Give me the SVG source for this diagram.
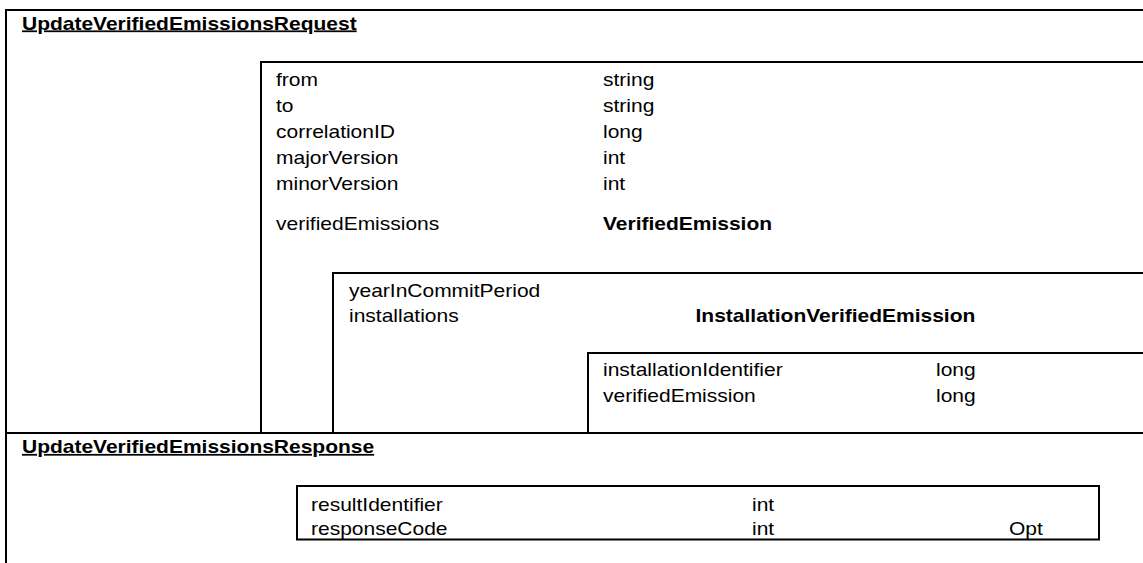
<svg xmlns="http://www.w3.org/2000/svg" width="1143" height="563" viewBox="0 0 1143 563">
<style>
  .ln { fill: none; stroke: #000; stroke-width: 2; }
  .t { font-family: "Liberation Sans", Arial, sans-serif; font-size: 17.5px; fill: #000; }
  .b { font-weight: bold; }
  .u { font-weight: bold; text-decoration: underline; }
</style>
<rect x="0" y="0" width="1143" height="563" fill="#fff"/>
<g id="connectors"/>
<g id="request">
  <path class="ln" d="M1143 10 H6 V563"/>
  <text class="t u" transform="matrix(1.2 0 0 1 22 29.5)">UpdateVerifiedEmissionsRequest</text>
</g>
<g id="request-fields">
  <path class="ln" d="M1143 62 H261 V433"/>
  <text class="t" transform="matrix(1.2 0 0 1 276 86)">from</text>
  <text class="t" transform="matrix(1.2 0 0 1 276 112)">to</text>
  <text class="t" transform="matrix(1.2 0 0 1 276 138)">correlationID</text>
  <text class="t" transform="matrix(1.2 0 0 1 276 164)">majorVersion</text>
  <text class="t" transform="matrix(1.2 0 0 1 276 190)">minorVersion</text>
  <text class="t" transform="matrix(1.2 0 0 1 276 230)">verifiedEmissions</text>
  <text class="t" transform="matrix(1.2 0 0 1 603 86)">string</text>
  <text class="t" transform="matrix(1.2 0 0 1 603 112)">string</text>
  <text class="t" transform="matrix(1.2 0 0 1 603 138)">long</text>
  <text class="t" transform="matrix(1.2 0 0 1 603 164)">int</text>
  <text class="t" transform="matrix(1.2 0 0 1 603 190)">int</text>
  <text class="t b" transform="matrix(1.2 0 0 1 603 230)">VerifiedEmission</text>
</g>
<g id="verified-emission">
  <path class="ln" d="M1143 273 H333 V433"/>
  <text class="t" transform="matrix(1.2 0 0 1 349 296.5)">yearInCommitPeriod</text>
  <text class="t" transform="matrix(1.2 0 0 1 349 322)">installations</text>
  <text class="t b" transform="matrix(1.2 0 0 1 695.5 322)">InstallationVerifiedEmission</text>
</g>
<g id="installation-verified-emission">
  <path class="ln" d="M1143 353 H588 V433"/>
  <text class="t" transform="matrix(1.2 0 0 1 603 376)">installationIdentifier</text>
  <text class="t" transform="matrix(1.2 0 0 1 603 402)">verifiedEmission</text>
  <text class="t" transform="matrix(1.2 0 0 1 936 376)">long</text>
  <text class="t" transform="matrix(1.2 0 0 1 936 402)">long</text>
</g>
<g id="response">
  <path class="ln" d="M6 433 H1143"/>
  <text class="t u" transform="matrix(1.2 0 0 1 22 453)">UpdateVerifiedEmissionsResponse</text>
</g>
<g id="response-fields">
  <rect class="ln" x="297" y="486" width="802" height="53.5"/>
  <text class="t" transform="matrix(1.2 0 0 1 311 511)">resultIdentifier</text>
  <text class="t" transform="matrix(1.2 0 0 1 311 535)">responseCode</text>
  <text class="t" transform="matrix(1.2 0 0 1 752 511)">int</text>
  <text class="t" transform="matrix(1.2 0 0 1 752 535)">int</text>
  <text class="t" transform="matrix(1.2 0 0 1 1009 535)">Opt</text>
</g>
</svg>
